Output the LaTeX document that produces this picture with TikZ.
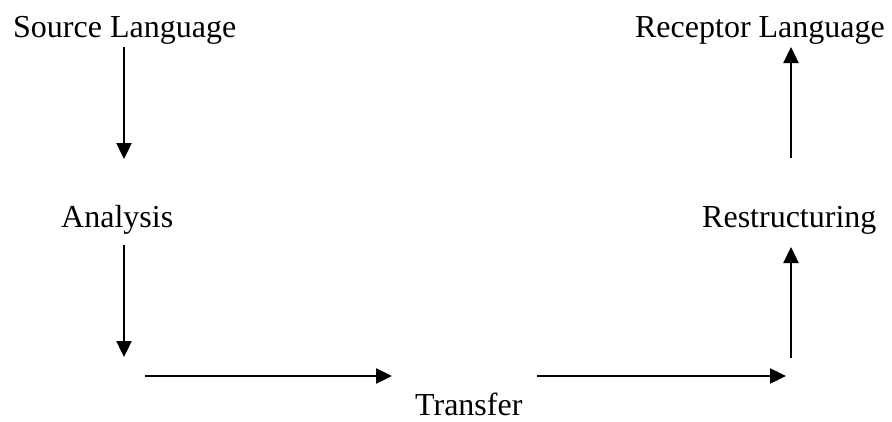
\documentclass[tikz,border=0pt]{standalone}
\usepackage{fontspec}
\setmainfont{Liberation Serif}
\usetikzlibrary{arrows.meta}

\begin{document}
\begin{tikzpicture}[x=1pt,y=-1pt,
    lbl/.style={inner sep=0pt,font=\fontsize{32}{38}\selectfont},
    arr/.style={line width=2.4pt,-{Triangle[length=16pt,width=15pt]}}]
      \useasboundingbox (0,0) rectangle (892,421);
      % stages
      \node[lbl,anchor=base west] (src) at (13,37) {Source Language};
      \node[lbl,anchor=base east] (rcp) at (885,37) {Receptor Language};
      \node[lbl,anchor=base west] (ana) at (61,227) {Analysis};
      \node[lbl,anchor=base west] (rst) at (702,227) {Restructuring};
      \node[lbl,anchor=base west] (trf) at (415,415) {Transfer};
      % arrow ends
      \coordinate (s1) at (124,47);
      \coordinate (e1) at (124,159);
      \coordinate (s2) at (124,245);
      \coordinate (e2) at (124,357);
      \coordinate (s3) at (145,376);
      \coordinate (e3) at (392,376);
      \coordinate (s4) at (537,376);
      \coordinate (e4) at (786,376);
      \coordinate (s5) at (791,358);
      \coordinate (e5) at (791,247);
      \coordinate (s6) at (791,158);
      \coordinate (e6) at (791,47);
      \draw[arr] (s1) -- (e1);
      \draw[arr] (s2) -- (e2);
      \draw[arr] (s3) -- (e3);
      \draw[arr] (s4) -- (e4);
      \draw[arr] (s5) -- (e5);
      \draw[arr] (s6) -- (e6);
\end{tikzpicture}
\end{document}
